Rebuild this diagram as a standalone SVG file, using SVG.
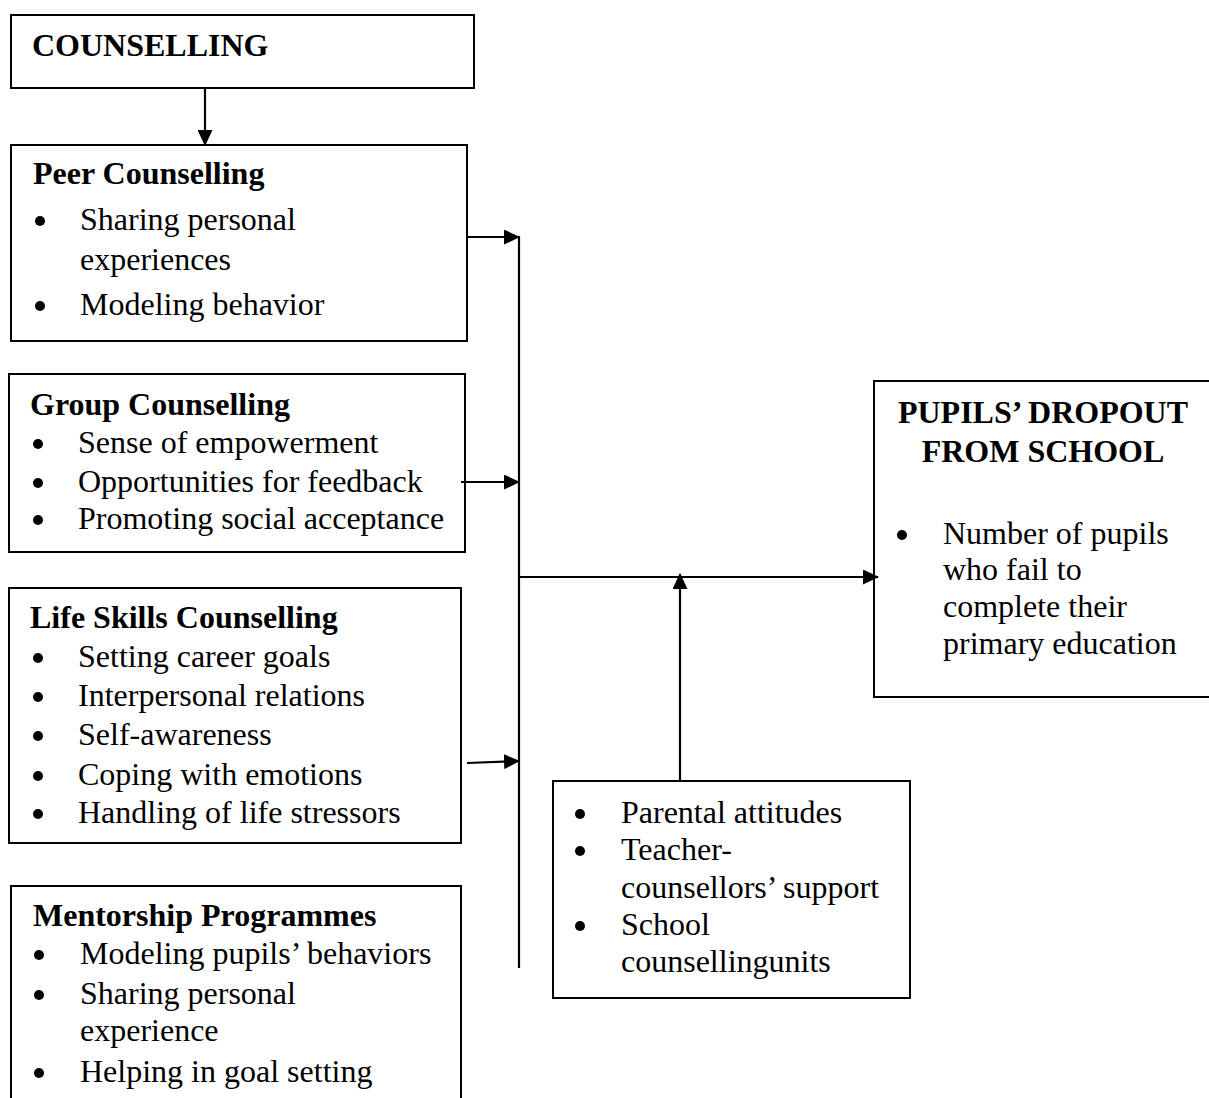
<svg xmlns="http://www.w3.org/2000/svg" width="1209" height="1098" viewBox="0 0 1209 1098">
<style>
.box{fill:#fff;stroke:#000;stroke-width:2}
.t{font-family:"Liberation Serif","Times New Roman",serif;font-size:32px;fill:#000}
.b{font-weight:bold}
.c{stroke:#000;stroke-width:2.2;fill:none}
.d{fill:#000}
</style>
<defs>
<marker id="ah" markerWidth="16" markerHeight="15" refX="15" refY="7.5" orient="auto" markerUnits="userSpaceOnUse">
<path d="M0,0 L16,7.5 L0,15 Z" fill="#000"/>
</marker>
</defs>
<rect width="1209" height="1098" fill="#fff"/>
<g id="counselling">
<rect class="box" x="11" y="15" width="463" height="73"/>
<text class="t b" x="32" y="56">COUNSELLING</text>
</g>
<g id="peer">
<rect class="box" x="11" y="145" width="456" height="196"/>
<text class="t b" x="33" y="184">Peer Counselling</text>
<circle class="d" cx="40" cy="221" r="5"/><text class="t" x="80" y="230">Sharing personal</text>
<text class="t" x="80" y="270">experiences</text>
<circle class="d" cx="40" cy="306" r="5"/><text class="t" x="80" y="315">Modeling behavior</text>
</g>
<g id="group">
<rect class="box" x="9" y="374" width="456" height="178"/>
<text class="t b" x="30" y="415">Group Counselling</text>
<circle class="d" cx="38" cy="444" r="5"/><text class="t" x="78" y="453">Sense of empowerment</text>
<circle class="d" cx="38" cy="483" r="5"/><text class="t" x="78" y="492">Opportunities for feedback</text>
<circle class="d" cx="38" cy="520" r="5"/><text class="t" x="78" y="529">Promoting social acceptance</text>
</g>
<g id="lifeskills">
<rect class="box" x="9" y="588" width="452" height="255"/>
<text class="t b" x="30" y="628">Life Skills Counselling</text>
<circle class="d" cx="38" cy="658" r="5"/><text class="t" x="78" y="667">Setting career goals</text>
<circle class="d" cx="38" cy="697" r="5"/><text class="t" x="78" y="706">Interpersonal relations</text>
<circle class="d" cx="38" cy="736" r="5"/><text class="t" x="78" y="745">Self-awareness</text>
<circle class="d" cx="38" cy="776" r="5"/><text class="t" x="78" y="785">Coping with emotions</text>
<circle class="d" cx="38" cy="814" r="5"/><text class="t" x="78" y="823">Handling of life stressors</text>
</g>
<g id="mentorship">
<rect class="box" x="11" y="886" width="450" height="230"/>
<text class="t b" x="33" y="926">Mentorship Programmes</text>
<circle class="d" cx="39" cy="955" r="5"/><text class="t" x="80" y="964">Modeling pupils’ behaviors</text>
<circle class="d" cx="39" cy="995" r="5"/><text class="t" x="80" y="1004">Sharing personal</text>
<text class="t" x="80" y="1041">experience</text>
<circle class="d" cx="39" cy="1073" r="5"/><text class="t" x="80" y="1082">Helping in goal setting</text>
</g>
<g id="dropout">
<rect class="box" x="874" y="381" width="360" height="316"/>
<text class="t b" x="1043" y="423" text-anchor="middle">PUPILS’ DROPOUT</text>
<text class="t b" x="1043" y="462" text-anchor="middle">FROM SCHOOL</text>
<circle class="d" cx="902" cy="535" r="5"/><text class="t" x="943" y="544">Number of pupils</text>
<text class="t" x="943" y="580">who fail to</text>
<text class="t" x="943" y="617">complete their</text>
<text class="t" x="943" y="654">primary education</text>
</g>
<g id="moderating">
<rect class="box" x="553" y="781" width="357" height="217"/>
<circle class="d" cx="580" cy="814" r="5"/><text class="t" x="621" y="823">Parental attitudes</text>
<circle class="d" cx="580" cy="851" r="5"/><text class="t" x="621" y="860">Teacher-</text>
<text class="t" x="621" y="898">counsellors’ support</text>
<circle class="d" cx="580" cy="926" r="5"/><text class="t" x="621" y="935">School</text>
<text class="t" x="621" y="972">counsellingunits</text>
</g>
<g id="connectors">
<line class="c" x1="205" y1="88" x2="205" y2="145" marker-end="url(#ah)"/>
<line class="c" x1="467" y1="237" x2="519" y2="237" marker-end="url(#ah)"/>
<line class="c" x1="461" y1="482" x2="519" y2="482" marker-end="url(#ah)"/>
<line class="c" x1="467" y1="763" x2="519" y2="761" marker-end="url(#ah)"/>
<line class="c" x1="519" y1="236" x2="519" y2="968"/>
<line class="c" x1="519" y1="577" x2="878" y2="577" marker-end="url(#ah)"/>
<line class="c" x1="680" y1="781" x2="680" y2="574" marker-end="url(#ah)"/>
</g>
</svg>
